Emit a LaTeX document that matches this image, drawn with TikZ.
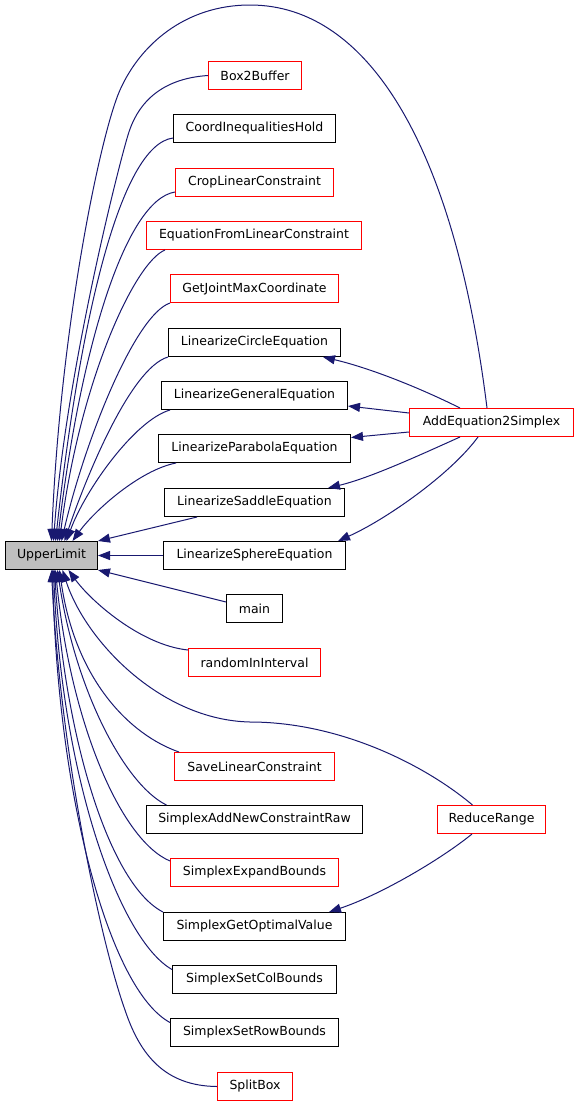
\documentclass[tikz,border=0pt]{standalone}
\usepackage{fontspec}
\setmainfont{DejaVu Sans}
\usetikzlibrary{arrows.meta,calc}
\definecolor{edgeblue}{HTML}{191970}
\definecolor{ulgray}{HTML}{BFBFBF}
\definecolor{nodered}{HTML}{FF0000}
\begin{document}
\begin{tikzpicture}[x=1bp,y=-1bp,
  fn/.style={draw=black, line width=1bp, minimum height=28bp, inner xsep=4bp, inner ysep=0pt, font=\fontsize{12.5bp}{15bp}\selectfont, fill=white},
  fnred/.style={fn, draw=nodered},
  fnroot/.style={fn, fill=ulgray},
  calledge/.style={draw=edgeblue, line width=1bp, -{Triangle[length=12bp,width=9bp]}}
]
\useasboundingbox (0,0) rectangle (579,1107);

\node[fnroot, minimum width=92bp] (ul) at (51.5,555.5) {UpperLimit};
\node[fnred, minimum width=93bp] (box2buffer) at (255,75.5) {Box2Buffer};
\node[fn, minimum width=162bp] (coord) at (254.5,128.5) {CoordInequalitiesHold};
\node[fnred, minimum width=158bp] (crop) at (254.5,182.5) {CropLinearConstraint};
\node[fnred, minimum width=215bp] (eqfrom) at (254,235.5) {EquationFromLinearConstraint};
\node[fnred, minimum width=168bp] (getjoint) at (254.5,288.5) {GetJointMaxCoordinate};
\node[fn, minimum width=172bp] (circle) at (254.5,342.5) {LinearizeCircleEquation};
\node[fn, minimum width=186bp] (general) at (254.5,395.5) {LinearizeGeneralEquation};
\node[fn, minimum width=192bp] (parabola) at (254.5,448.5) {LinearizeParabolaEquation};
\node[fn, minimum width=180bp] (saddle) at (254.5,502.5) {LinearizeSaddleEquation};
\node[fn, minimum width=182bp] (sphere) at (254.5,555.5) {LinearizeSphereEquation};
\node[fn, minimum width=56bp] (main) at (254.5,608.5) {main};
\node[fnred, minimum width=132bp] (random) at (254.5,662.5) {randomInInterval};
\node[fnred, minimum width=160bp] (save) at (254.5,766.5) {SaveLinearConstraint};
\node[fn, minimum width=216bp] (addraw) at (254.5,819.5) {SimplexAddNewConstraintRaw};
\node[fnred, minimum width=168bp] (expand) at (254.5,872.5) {SimplexExpandBounds};
\node[fn, minimum width=182bp] (getopt) at (254.5,926.5) {SimplexGetOptimalValue};
\node[fn, minimum width=164bp] (colb) at (254.5,979.5) {SimplexSetColBounds};
\node[fn, minimum width=168bp] (rowb) at (254.5,1032.5) {SimplexSetRowBounds};
\node[fnred, minimum width=75bp] (split) at (255,1086.5) {SplitBox};
\node[fnred, minimum width=164bp] (add2s) at (491.5,422.5) {AddEquation2Simplex};
\node[fnred, minimum width=108bp] (reduce) at (491.5,819.5) {ReduceRange};

% callers above -> UpperLimit top
\draw[calledge] ($(add2s.north)+(-4.5,0)$) .. controls (455,150) and (370,5) .. (250,5)
  .. controls (185,5) and (140,45) .. (120,90)
  .. controls (100,135) and (60,330) .. ($(ul.north west)+(46.5,0)$);
\draw[calledge] (box2buffer.west) .. controls (170,78) and (140,95) .. (128,135)
  .. controls (116,175) and (65,380) .. ($(ul.north west)+(48.5,0)$);
\draw[calledge] ($(coord.west)+(0,9.5)$) .. controls (120,145) and (80,320) .. ($(ul.north west)+(50.5,0)$);
\draw[calledge] ($(crop.west)+(0,9.5)$) .. controls (125,200) and (80,350) .. ($(ul.north west)+(52.5,0)$);
\draw[calledge] ($(eqfrom.south west)+(19,0)$) .. controls (135,262) and (80,380) .. ($(ul.north west)+(54.5,0)$);
\draw[calledge] (getjoint.south west) .. controls (135,315) and (85,440) .. ($(ul.north west)+(56.5,0)$);
\draw[calledge] (circle.south west) .. controls (130,368) and (85,480) .. ($(ul.north west)+(59.5,0)$);
\draw[calledge] ($(general.south west)+(9,0)$) .. controls (135,420) and (85,490) .. ($(ul.north west)+(61.5,0)$);
\draw[calledge] ($(parabola.south west)+(18,0)$) .. controls (140,470) and (95,510) .. ($(ul.north west)+(67.5,0)$);
\draw[calledge] ($(saddle.south west)+(33,0)$) -- (ul.north east);
\draw[calledge] (sphere.west) -- (ul.east);
\draw[calledge] ($(main.west)+(0,-6.5)$) -- (ul.south east);

% callers below -> UpperLimit bottom
\draw[calledge] ($(random.north west)+(0,2)$) .. controls (140,645) and (90,600) .. ($(ul.south west)+(63.5,0)$);
\draw[calledge] ($(reduce.north)+(-19,0)$) .. controls (425,765) and (340,722) .. (250,722)
  .. controls (160,720) and (85,640) .. ($(ul.south west)+(57.5,0)$);
\draw[calledge] ($(save.north west)+(5,0)$) .. controls (130,735) and (75,680) .. ($(ul.south west)+(54.5,0)$);
\draw[calledge] ($(addraw.north west)+(20.5,0)$) .. controls (125,785) and (75,690) .. ($(ul.south west)+(52.5,0)$);
\draw[calledge] ($(expand.north west)+(0,3)$) .. controls (120,840) and (70,720) .. ($(ul.south west)+(50.5,0)$);
\draw[calledge] (getopt.north west) .. controls (110,885) and (65,740) .. ($(ul.south west)+(49.5,0)$);
\draw[calledge] ($(colb.north west)+(0,4.5)$) .. controls (120,940) and (62,780) .. ($(ul.south west)+(48.5,0)$);
\draw[calledge] ($(rowb.north west)+(0,4.5)$) .. controls (110,990) and (58,800) .. ($(ul.south west)+(47.5,0)$);
\draw[calledge] (split.west) .. controls (165,1086) and (140,1055) .. (125,1010)
  .. controls (100,940) and (60,750) .. ($(ul.south west)+(46.5,0)$);

% AddEquation2Simplex -> Linearize*
\draw[calledge] ($(add2s.north)+(-31.5,0)$) .. controls (420,388) and (370,368) .. ($(circle.south east)+(-18,0)$);
\draw[calledge] ($(add2s.west)+(0,-9.5)$) -- ($(general.east)+(0,10.5)$);
\draw[calledge] ($(add2s.west)+(0,9.5)$) -- ($(parabola.east)+(0,-11)$);
\draw[calledge] ($(add2s.south)+(-31.5,0)$) .. controls (420,455) and (370,478) .. ($(saddle.north east)+(-17,0)$);
\draw[calledge] ($(add2s.south)+(-13.5,0)$) .. controls (450,475) and (385,520) .. ($(sphere.north east)+(-8,0)$);

% ReduceRange -> SimplexGetOptimalValue
\draw[calledge] ($(reduce.south)+(-19.5,0)$) .. controls (440,860) and (380,895) .. ($(getopt.north east)+(-17,0)$);
\end{tikzpicture}
\end{document}
